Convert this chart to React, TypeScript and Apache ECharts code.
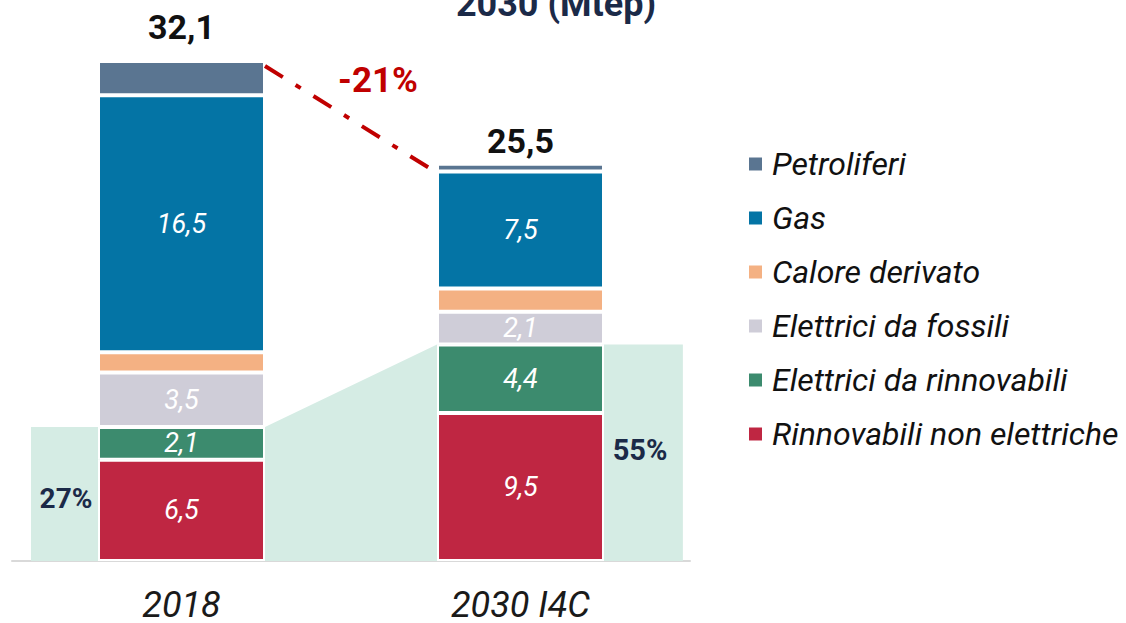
import React, { useEffect, useRef } from "react";
import * as echarts from "echarts";

const categories = ["2018", "2030 I4C"];
const rinnovabiliNonElettriche = [6.5, 9.5];
const elettriciDaRinnovabili = [2.1, 4.4];
const elettriciDaFossili = [3.5, 2.1];
const caloreDerivato = [1.3, 1.5];
const gas = [16.5, 7.5];
const petroliferi = [2.2, 0.5];
const totals = [32.1, 25.5];
const renewableShares = ["27%", "55%"];
const changeLabel = "-21%";
const titleText = "2030 (Mtep)";
const legendOrder = [
  "Petroliferi",
  "Gas",
  "Calore derivato",
  "Elettrici da fossili",
  "Elettrici da rinnovabili",
  "Rinnovabili non elettriche",
];

const FONT = "Roboto";
const BAR_W = 167;
const fmt = (v: number) => v.toFixed(1).replace(".", ",");

export default function App() {
  const ref = useRef<HTMLDivElement>(null);
  useEffect(() => {
    if (!ref.current) return;
    const chart = echarts.init(ref.current, undefined, { renderer: "svg" });
    const segLabel = (show: boolean) => ({
      show,
      position: "inside",
      color: "#ffffff",
      fontFamily: FONT,
      fontStyle: "italic",
      fontSize: 27,
      formatter: (p: any) => fmt(p.value),
    });
    const bar = (name: string, data: any[], color: string, showLabel: boolean, extra: any = {}) => ({
      name,
      type: "bar",
      stack: "total",
      barWidth: BAR_W,
      data,
      z: 3,
      itemStyle: { color, borderColor: "#ffffff", borderWidth: 2 },
      label: segLabel(showLabel),
      emphasis: { disabled: true },
      ...extra,
    });
    const renewTotals = rinnovabiliNonElettriche.map((v, i) => v + elettriciDaRinnovabili[i]);

    chart.setOption({
      animation: false,
      grid: { left: 12, right: 436, top: 61, bottom: 61 },
      legend: {
        orient: "vertical",
        left: 747,
        top: 147,
        padding: 0,
        itemWidth: 15,
        itemHeight: 15,
        itemGap: 20,
        icon: "rect",
        data: legendOrder,
        selectedMode: false,
        textStyle: {
          fontFamily: FONT,
          fontStyle: "italic",
          fontSize: 32,
          color: "#111111",
          lineHeight: 34,
          padding: [0, 0, 0, 4],
        },
      },
      xAxis: {
        type: "category",
        data: categories,
        axisLine: { show: true, lineStyle: { color: "#d9d9d9", width: 2 } },
        axisTick: { show: false },
        axisLabel: {
          margin: 26,
          fontFamily: FONT,
          fontStyle: "italic",
          fontSize: 36,
          color: "#1a1a1a",
        },
      },
      yAxis: { type: "value", min: 0, max: 32.1, show: false, splitLine: { show: false } },
      graphic: [
        {
          type: "text",
          x: 556,
          y: 22,
          style: {
            text: titleText,
            fontFamily: FONT,
            fontWeight: "bold",
            fontSize: 36,
            fill: "#1b2a48",
            align: "center",
            verticalAlign: "bottom",
          },
        },
        {
          type: "text",
          x: 378,
          y: 80,
          style: {
            text: changeLabel,
            fontFamily: FONT,
            fontWeight: "bold",
            fontSize: 35,
            fill: "#c00000",
            align: "center",
            verticalAlign: "middle",
          },
        },
        {
          type: "text",
          x: 66,
          y: 498,
          z: 10,
          style: {
            text: renewableShares[0],
            fontFamily: FONT,
            fontWeight: "bold",
            fontSize: 28,
            fill: "#1b2a48",
            align: "center",
            verticalAlign: "middle",
          },
        },
        {
          type: "text",
          x: 640,
          y: 450,
          z: 10,
          style: {
            text: renewableShares[1],
            fontFamily: FONT,
            fontWeight: "bold",
            fontSize: 29,
            fill: "#1b2a48",
            align: "center",
            verticalAlign: "middle",
          },
        },
      ],
      series: [
        {
          name: "shade",
          type: "custom",
          z: 1,
          silent: true,
          data: [[0]],
          renderItem: (params: any, api: any) => {
            const band = api.size([1, 0])[0];
            const base = api.coord([0, 0])[1];
            const p0 = api.coord([0, renewTotals[0]]);
            const p1 = api.coord([1, renewTotals[1]]);
            const h = BAR_W / 2;
            return {
              type: "polygon",
              shape: {
                points: [
                  [p0[0] - 0.444 * band, base],
                  [p0[0] - 0.444 * band, p0[1]],
                  [p0[0] + h, p0[1]],
                  [p1[0] - h, p1[1]],
                  [p1[0] + 0.479 * band, p1[1]],
                  [p1[0] + 0.479 * band, base],
                ],
              },
              style: { fill: "#d5ece4" },
            };
          },
        },
        bar("Rinnovabili non elettriche", rinnovabiliNonElettriche, "#bf2642", true),
        bar("Elettrici da rinnovabili", elettriciDaRinnovabili, "#3c8b6e", true),
        bar("Elettrici da fossili", elettriciDaFossili, "#cfcdd8", true),
        bar("Calore derivato", caloreDerivato, "#f4b183", false),
        bar("Gas", gas, "#0474a5", true),
        bar(
          "Petroliferi",
          petroliferi.map((v, i) => ({
            value: v,
            label: { distance: i === 0 ? 17 : 6 },
          })),
          "#5a7591",
          true,
          {
            label: {
              show: true,
              position: "top",
              color: "#111111",
              fontFamily: FONT,
              fontWeight: "bold",
              fontSize: 34,
              formatter: (p: any) => fmt(totals[p.dataIndex]),
            },
          }
        ),
        {
          name: "connector",
          type: "custom",
          z: 5,
          silent: true,
          data: [[0]],
          renderItem: (params: any, api: any) => {
            const p0 = api.coord([0, totals[0]]);
            const p1 = api.coord([1, totals[1]]);
            const h = BAR_W / 2;
            return {
              type: "line",
              shape: { x1: p0[0] + h, y1: p0[1] + 5, x2: p1[0] - h, y2: p1[1] + 9 },
              style: { stroke: "#c00000", lineWidth: 4, lineDash: [21, 15, 6, 15], fill: null },
            };
          },
        },
      ],
    });
    return () => chart.dispose();
  }, []);
  return <div ref={ref} style={{ width: 1126, height: 623, position: "absolute", left: 0, top: 0 }} />;
}
